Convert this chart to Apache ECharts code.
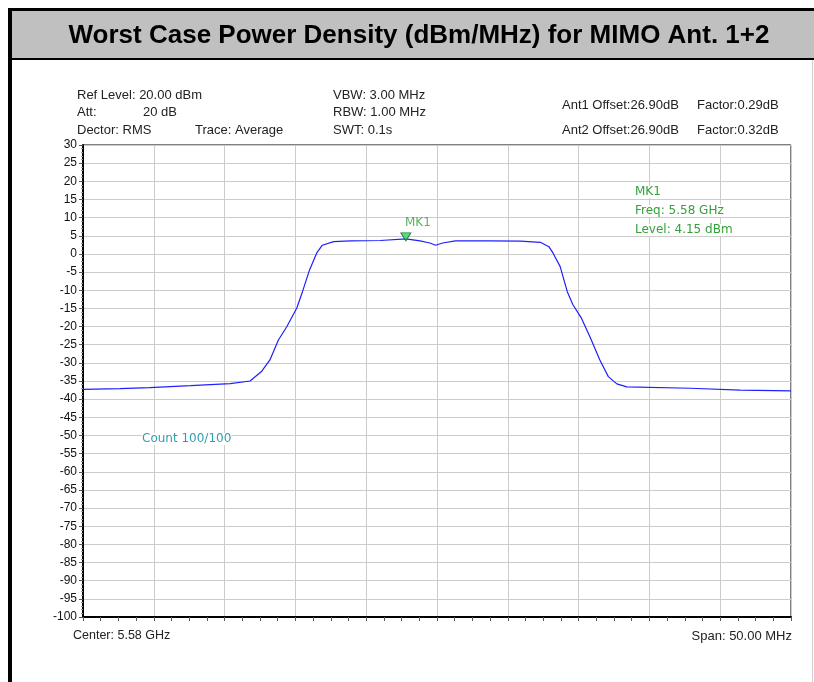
<!DOCTYPE html>
<html>
<head>
<meta charset="utf-8">
<script src="https://cdn.jsdelivr.net/npm/echarts@6/dist/echarts.min.js"></script>
<style>
  html,body{margin:0;padding:0;background:#fff;}
  #chart{width:814px;height:682px;}
</style>
</head>
<body>
<div id="chart"></div>
<script>
// trace: frequency (MHz) and level (dBm)
var freqs = [5555.0, 5557.6, 5559.7, 5562.6, 5565.4, 5566.8, 5567.6, 5568.2, 5568.8, 5569.4,
  5570.1, 5570.5, 5571.0, 5571.5, 5571.9, 5572.7, 5573.9, 5576.0, 5577.8, 5578.8,
  5579.5, 5579.9, 5580.4, 5581.3, 5583.7, 5585.9, 5587.3, 5587.9, 5588.2, 5588.7,
  5589.2, 5589.6, 5590.2, 5590.8, 5591.5, 5592.1, 5592.7, 5593.4, 5597.9, 5601.4, 5605.0];
var levels = [-37.3, -37.1, -36.8, -36.3, -35.7, -35.0, -32.4, -29.2, -23.7, -20.0,
  -14.9, -10.4, -4.4, 0.2, 2.4, 3.4, 3.6, 3.7, 4.15, 3.6,
  3.0, 2.4, 3.0, 3.6, 3.6, 3.5, 3.2, 2.0, 0.2, -3.5,
  -10.4, -14.0, -17.7, -22.8, -29.2, -33.8, -35.8, -36.6, -37.0, -37.5, -37.7];
var marker = [5577.8, 4.15];
var headerLeft = ['Ref Level: 20.00 dBm', 'Att:', 'Dector: RMS'];
var headerMid = ['VBW: 3.00 MHz', 'RBW: 1.00 MHz', 'SWT: 0.1s'];
var antOffsets = ['Ant1 Offset:26.90dB', 'Ant2 Offset:26.90dB'];
var antFactors = ['Factor:0.29dB', 'Factor:0.32dB'];
var mkInfo = ['MK1', 'Freq: 5.58 GHz', 'Level: 4.15 dBm'];

var chart = echarts.init(document.getElementById('chart'));
var font = 'Liberation Sans, Arial, sans-serif';
var wideFont = 'DejaVu Sans, Verdana, sans-serif';

function txt(x, y, s, size, fam, color, extra) {
  var style = {text: s, fill: color || '#222', font: size + 'px ' + fam, textVerticalAlign: 'middle'};
  if (extra) { for (var k in extra) style[k] = extra[k]; }
  return {type: 'text', x: x, y: y, z: 10, style: style};
}

var graphics = [
  // frame and title band
  {type: 'rect', shape: {x: 8, y: 8, width: 806, height: 3}, style: {fill: '#000'}},
  {type: 'rect', shape: {x: 12, y: 11, width: 802, height: 47}, style: {fill: '#c0c0c0'}},
  {type: 'rect', shape: {x: 8, y: 58, width: 806, height: 2}, style: {fill: '#000'}},
  {type: 'rect', shape: {x: 8, y: 8, width: 4, height: 674}, style: {fill: '#000'}},
  {type: 'rect', shape: {x: 812, y: 60, width: 1, height: 622}, style: {fill: '#d0d0d0'}},
  {type: 'text', x: 419, y: 36, style: {text: 'Worst Case Power Density (dBm/MHz) for MIMO Ant. 1+2',
    fill: '#000', font: 'bold 26px ' + font, textAlign: 'center', textVerticalAlign: 'middle'}},
  // header texts
  txt(77, 95, headerLeft[0], 13, font),
  txt(77, 112, headerLeft[1], 13, font),
  txt(143, 112, '20 dB', 13, font),
  txt(77, 130, headerLeft[2], 13, font),
  txt(195, 130, 'Trace: Average', 13, font),
  txt(333, 95, headerMid[0], 13, font),
  txt(333, 112, headerMid[1], 13, font),
  txt(333, 130, headerMid[2], 13, font),
  txt(562, 105, antOffsets[0], 13, font),
  txt(697, 105, antFactors[0], 13, font),
  txt(562, 130, antOffsets[1], 13, font),
  txt(697, 130, antFactors[1], 13, font),
  // marker info
  txt(635, 192, mkInfo[0], 12, wideFont, '#34a03a', {backgroundColor: '#fff'}),
  txt(635, 211, mkInfo[1], 12, wideFont, '#34a03a', {backgroundColor: '#fff'}),
  txt(635, 230, mkInfo[2], 12, wideFont, '#34a03a', {backgroundColor: '#fff'}),
  txt(142, 439, 'Count 100/100', 12, wideFont, '#2f9fb0', {backgroundColor: '#fff'}),
  // footer
  txt(73, 636, 'Center: 5.58 GHz', 12.5, font),
  txt(792, 636, 'Span: 50.00 MHz', 13, font, '#222', {textAlign: 'right'})
];

chart.setOption({
  animation: false,
  backgroundColor: '#fff',
  grid: {left: 83, right: 23, top: 145, bottom: 65, show: true, borderColor: '#000', borderWidth: 1},
  xAxis: {
    type: 'value', min: 5555, max: 5605, interval: 5,
    axisLine: {show: true, onZero: false, lineStyle: {color: '#000', width: 2}},
    axisTick: {show: true, length: 4, lineStyle: {color: '#555'}},
    minorTick: {show: true, splitNumber: 4, length: 4, lineStyle: {color: '#555'}},
    axisLabel: {show: false},
    splitLine: {show: true, lineStyle: {color: '#cccccc', width: 1}}
  },
  yAxis: {
    type: 'value', min: -100, max: 30, interval: 5,
    axisLine: {show: true, onZero: false, lineStyle: {color: '#000', width: 2}},
    axisTick: {show: true, length: 4, lineStyle: {color: '#555'}},
    minorTick: {show: true, splitNumber: 5, length: 2, lineStyle: {color: '#999'}},
    axisLabel: {color: '#111', fontSize: 12, fontFamily: font, margin: 6},
    splitLine: {show: true, lineStyle: {color: '#cccccc', width: 1}}
  },
  series: [{
    type: 'line',
    data: freqs.map(function (f, i) { return [f, levels[i]]; }),
    showSymbol: false,
    lineStyle: {color: '#1f1fff', width: 1.2},
    z: 3
  }, {
    type: 'scatter',
    data: [marker],
    symbol: 'triangle',
    symbolRotate: 180,
    symbolSize: [10, 8],
    symbolOffset: [0, -2],
    itemStyle: {color: '#22dd55', borderColor: '#1a5a2a', borderWidth: 1},
    label: {show: true, position: 'top', distance: 4, offset: [12, 0], formatter: 'MK1', color: '#34a03a', fontSize: 12, fontFamily: wideFont},
    z: 5
  }],
  graphic: graphics
});
</script>
</body>
</html>
